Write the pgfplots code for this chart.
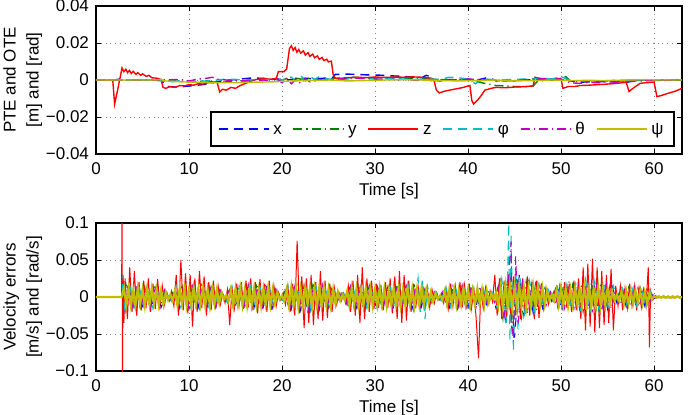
\documentclass[border=0pt]{standalone}
\usepackage{fontspec}
\setmainfont{Liberation Sans}
\usepackage{pgfplots}
\pgfplotsset{compat=1.18}

% MATLAB-style line colours
\definecolor{cx}{rgb}{0,0,1}
\definecolor{cy}{rgb}{0,0.5,0}
\definecolor{cz}{rgb}{1,0,0}
\definecolor{cphi}{rgb}{0,0.75,0.75}
\definecolor{cth}{rgb}{0.75,0,0.75}
\definecolor{cpsi}{rgb}{0.75,0.75,0}

\newcommand{\lblfont}{\fontsize{8.5}{10}\selectfont}

% line styles of the six error components
\tikzset{
  sx/.style={dash pattern=on 4.5pt off 3pt},
  sy/.style={dash pattern=on 4.5pt off 2pt on 0.6pt off 2pt},
  sz/.style={},
  sphi/.style={dash pattern=on 4.5pt off 3pt},
  sth/.style={dash pattern=on 4.5pt off 2pt on 0.6pt off 2pt},
  spsi/.style={},
}

\pgfplotsset{
  errax/.style={
    scale only axis, width=293pt, height=74pt,
    xmin=0, xmax=63,
    xtick={0,10,20,30,40,50,60},
    xticklabels={0,10,20,30,40,50,60},
    scaled x ticks=false, scaled y ticks=false,
    tick align=inside, major tick length=2.5pt,
    grid=major,
    major grid style={dotted, black!50, line width=0.45pt},
    axis line style={line width=0.8pt},
    every tick/.style={black, line width=0.5pt},
    tick label style={font=\lblfont},
    xticklabel style={yshift=-1pt},
    label style={font=\lblfont},
    ylabel style={align=center, font=\fontsize{8.5}{11.5}\selectfont},
    ylabel shift=-5pt,
    xlabel style={yshift=3pt},
    xlabel={Time [s]},
    clip=true,
  },
}

\begin{document}
\begin{tikzpicture}
\useasboundingbox (-48pt,3pt) rectangle (297pt,-204pt);

% ---------- position and orientation tracking errors ----------
\begin{axis}[errax, at={(0,0)}, anchor=north west,
  ymin=-0.04, ymax=0.04,
  ytick={-0.04,-0.02,0,0.02,0.04},
  yticklabels={−0.04,−0.02,0,0.02,0.04},
  ylabel={PTE and OTE\\{}[m] and [rad]},
  legend columns=6,
  legend image code/.code={\draw[#1] (0pt,0pt) -- (25pt,0pt);},
  legend style={at={(0.986,0.054)}, anchor=south east, name=leg,
    font=\lblfont, inner xsep=3pt, inner ysep=2pt,
    /tikz/every even column/.append style={column sep=3.5pt}},
]
\addplot[cx, sx, line width=0.7pt] coordinates {
(0,0)(2,0)(2.5,.0005)(3,0)(5,0)(7,0)(7.3,-.002)(7.6,-.0035)(8.5,-.0038)(9.5,-.0035)
(10.5,-.003)(11.5,-.0025)(12.5,-.0015)(13,-.001)(13.5,-.0005)(14.5,0)(15.5,.0005)
(16.5,.001)(17.5,.001)(18.5,.0005)(19.5,.0005)(20.5,0)(21.5,.0005)(22.5,.001)
(23.5,.0005)(24.5,.001)(25.5,.0015)(25.7,.003)(27,.0032)(28,.003)(29,.0028)
(30,.0027)(31,.0025)(32,.0022)(33,.002)(34,.0015)(35,.0012)(35.5,.0025)(35.9,.002)
(36.2,0)(37,-.0005)(38,.0003)(39,0)(40,.0005)(41,0)(42,.0012)(42.5,.0008)(43,-.0005)
(44,0)(45,-.0005)(46,.0003)(47,0)(48,.0005)(49,0)(50,.0008)(51,-.0005)(52,-.0012)
(53,-.001)(54,-.0008)(55,-.001)(56,-.0005)(57,-.0012)(58,-.0005)(59,0)(60,-.0003)
(61,0)(63,0)};
\addlegendentry{\strut x}
\addplot[cy, sy, line width=0.7pt] coordinates {
(0,0)(7,0)(8,-.0005)(10,-.001)(12,-.0005)(13,-.0015)(14,-.001)(15,-.0005)(16,-.0005)
(17,0)(19,.0005)(20,0)(21,.0015)(22,.0005)(23,.001)(24,0)(26,.001)(28,.0015)(30,.001)
(32,.0012)(34,.0008)(36,.0005)(38,0)(40,0)(41,-.001)(42,-.002)(43,-.003)(44,-.0032)
(45,-.0035)(46,-.0037)(47,-.0032)(47.5,-.0005)(49,0)(50,.001)(50.5,.0018)(51,-.0005)
(53,-.0008)(55,-.0005)(57,-.0005)(59,0)(63,0)};
\addlegendentry{\strut y}
\addplot[cz, sz, line width=0.7pt] coordinates {
(0,0)(1.8,0)(2.0,-.013)(2.3,-.006)(2.5,-.001)(2.7,.004)(2.8,.0065)(3.0,.0045)
(3.2,.0058)(3.4,.004)(3.6,.0052)(3.8,.0035)(4.0,.0047)(4.3,.003)(4.5,.004)(4.8,.0025)
(5.0,.0033)(5.4,.002)(5.7,.0025)(6.0,.0012)(6.5,.001)(7.0,.0003)(7.2,-.004)(7.5,-.0045)
(8,-.0035)(8.5,-.004)(9,-.003)(9.5,-.0032)(10,-.0025)(10.5,-.0028)(11,-.002)
(11.5,-.0022)(12,-.0015)(12.5,-.0015)(13.0,-.001)(13.3,-.0065)(13.6,-.005)(14,-.0055)
(14.5,-.004)(15,-.0045)(15.5,-.003)(16,-.002)(16.5,-.001)(17,0)(17.5,.0005)(18,.001)
(18.5,.0005)(19,.0005)(19.4,.001)(19.6,.0045)(20.2,.0045)(20.5,.006)(20.8,.017)
(21.0,.0185)(21.2,.016)(21.4,.0175)(21.6,.015)(21.8,.0165)(22.0,.0145)(22.3,.0158)
(22.5,.0135)(22.8,.0148)(23.0,.0128)(23.3,.014)(23.5,.012)(23.8,.013)(24.0,.0112)
(24.3,.0122)(24.5,.0105)(24.8,.0112)(25.0,.0098)(25.3,.0102)(25.5,.003)(25.7,.001)
(26,.0008)(27,.0012)(28,.0015)(29,.0013)(30,.0016)(31,.0014)(32,.0016)(33,.0015)
(34,.0017)(35,.0015)(36,.001)(36.3,.0005)(36.6,-.0055)(36.9,-.007)(37.5,-.006)
(38,-.0055)(38.5,-.005)(39,-.0045)(39.5,-.004)(40,-.0032)(40.2,-.003)(40.4,-.011)
(40.6,-.013)(41.0,-.011)(41.4,-.0085)(41.8,-.0055)(42.5,-.0045)(43,-.004)(44,-.0042)
(45,-.0038)(46,-.0036)(47,-.0032)(47.2,.0015)(47.6,.001)(48,.0005)(49,0)(49.5,.001)
(50,.0005)(50.2,-.0045)(50.8,-.0035)(51.5,-.0035)(52,-.003)(53,-.0028)(54,-.0025)
(55,-.0022)(56,-.0018)(57,-.0012)(57.3,-.0062)(57.6,-.005)(58,-.0035)(58.5,-.0018)
(59,-.0015)(60,-.0012)(60.3,-.009)(60.7,-.0085)(61.5,-.0072)(62.3,-.006)(63,-.0045)};
\addlegendentry{\strut z}
\addplot[cphi, sphi, line width=0.7pt] coordinates {
(0,0)(6,0)(7,-.0005)(8,-.001)(9,-.0005)(10,-.0008)(12,-.0005)(13,0)(14,.0005)(16,0)
(18,.0003)(20,0)(21,.0015)(21.5,-.0005)(22,.0025)(22.5,-.0005)(23,.002)(23.5,.0003)
(24,.0018)(25,.0005)(26,.0002)(28,.001)(30,.0005)(32,.0008)(34,.0003)(36,.0005)
(37,.0003)(38,.0015)(39,.0012)(40,.0005)(40.8,-.002)(41.3,-.0005)(42,.0005)(43,0)
(45,.0003)(46,.0005)(48,.001)(49,.0005)(50,.0018)(51,-.0003)(53,-.0005)(55,-.0003)
(58,0)(63,0)};
\addlegendentry{\strut φ}
\addplot[cth, sth, line width=0.7pt] coordinates {
(0,0)(7,0)(9,.0003)(10,-.0005)(11,.0005)(12,.001)(12.5,.0015)(13,.0005)(14,0)
(16,-.0005)(18,0)(19,-.0008)(19.5,.0005)(20,-.0015)(20.5,.0008)(21,-.002)(21.5,.0005)
(22,-.0018)(22.5,.0006)(23,-.001)(24,0)(26,.0005)(28,.001)(30,.0005)(32,.0003)(34,0)
(36,-.0003)(38,0)(40,.0005)(42,0)(44,-.0005)(46,0)(48,.0008)(50,.0005)(51,-.0015)
(52,-.0018)(53,-.0012)(54,-.0015)(55,-.001)(56,-.0012)(57,-.0008)(58,-.0005)
(60,-.0003)(63,0)};
\addlegendentry{\strut θ}
\addplot[cpsi, spsi, line width=0.7pt] coordinates {
(0,0)(6,0)(7,.0002)(7.5,-.0005)(9,-.001)(11,-.0012)(13,-.0015)(15,-.0015)(17,-.0012)
(19,-.001)(21,-.0005)(23,-.0003)(25,0)(27,-.0005)(29,-.0003)(31,0)(33,.0002)(35,0)
(37,-.0003)(39,-.0005)(41,-.0003)(43,0)(45,-.0005)(47,-.0003)(49,0)(51,-.0003)
(53,-.0002)(55,-.0003)(57,0)(59,.0002)(61,0)(63,0)};
\addlegendentry{\strut ψ}
\end{axis}
% heavier frame around the legend box
\draw[black, line width=1pt] (leg.south west) rectangle (leg.north east);

% ---------- velocity errors ----------
\begin{axis}[errax, at={(0,-108.5pt)}, anchor=north west,
  ymin=-0.1, ymax=0.1,
  ytick={-0.1,-0.05,0,0.05,0.1},
  yticklabels={−0.1,−0.05,0,0.05,0.1},
  ylabel={Velocity errors\\{}[m/s] and [rad/s]},
]
\addplot[cx, sx, line width=0.5pt] coordinates {
(0,0)(2.8,0)(2.9,.025)(3,-.02)(3.5,.015)(4,-.013)(4.5,.014)(5,-.012)(5.5,.015)(6,-.013)
(6.5,.012)(7,-.014)(7.5,.008)(8,-.004)(8.5,.012)(9,-.015)(9.5,.014)(10,-.016)(10.5,.013)
(11,-.014)(11.5,.015)(12,-.012)(12.5,.014)(13,-.013)(13.5,.007)(14,-.004)(14.5,.013)
(15,-.015)(15.5,.014)(16,-.012)(16.5,.015)(17,-.014)(17.5,.016)(18,-.013)(18.5,.014)
(19,-.015)(19.5,.008)(20,-.003)(20.5,.014)(21,-.016)(21.5,.015)(22,-.018)(22.5,.016)
(23,-.020)(23.5,.014)(24,-.017)(24.5,.015)(25,-.014)(25.5,.012)(26,-.008)(26.5,.005)
(27,-.010)(27.5,.015)(28,-.014)(28.5,.016)(29,-.015)(29.5,.013)(30,-.014)(30.5,.015)
(31,-.013)(31.5,.014)(32,-.016)(32.5,.015)(33,-.014)(33.5,.013)(34,-.015)(34.5,.014)
(35,-.013)(35.5,.012)(36,-.010)(36.5,.006)(37,-.004)(37.5,.012)(38,-.014)(38.5,.015)
(39,-.013)(39.5,.014)(40,-.015)(40.5,.013)(41,-.014)(41.5,.012)(42,-.010)(42.5,.006)
(43,-.015)(43.5,.022)(44,-.030)(44.5,.035)(45,-.055)(45.5,.030)(46,-.025)(46.5,.020)
(47,-.022)(47.5,.018)(48,-.015)(48.5,.010)(49,-.006)(49.5,.014)(50,-.015)(50.5,.016)
(51,-.014)(51.5,.018)(52,-.016)(52.5,.020)(53,-.018)(53.5,.022)(54,-.020)(54.5,.018)
(55,-.016)(55.5,.014)(56,-.008)(56.5,.012)(57,-.013)(57.5,.012)(58,-.011)(58.5,.013)
(59,-.012)(59.5,.010)(60,-.002)(61,.001)(62,-.001)(63,0)};
\addplot[cy, sy, line width=0.5pt] coordinates {
(0,0)(2.8,0)(2.95,-.02)(3.25,.016)(3.75,-.014)(4.25,.013)(4.75,-.015)(5.25,.014)
(5.75,-.012)(6.25,.015)(6.75,-.013)(7.25,.011)(7.75,-.005)(8.25,.006)(8.75,-.014)
(9.25,.015)(9.75,-.013)(10.25,.016)(10.75,-.014)(11.25,.013)(11.75,-.015)(12.25,.014)
(12.75,-.012)(13.25,.010)(13.75,-.004)(14.25,.008)(14.75,-.014)(15.25,.015)(15.75,-.013)
(16.25,.014)(16.75,-.016)(17.25,.015)(17.75,-.013)(18.25,.018)(18.75,-.014)(19.25,.012)
(19.75,-.004)(20.25,.006)(20.75,-.015)(21.25,.016)(21.75,-.017)(22.25,.015)(22.75,-.019)
(23.25,.016)(23.75,-.015)(24.25,.014)(24.75,-.016)(25.25,.013)(25.75,-.010)(26.25,.006)
(26.75,-.005)(27.25,.012)(27.75,-.015)(28.25,.014)(28.75,-.016)(29.25,.015)(29.75,-.013)
(30.25,.014)(30.75,-.015)(31.25,.013)(31.75,-.014)(32.25,.016)(32.75,-.015)(33.25,.014)
(33.75,-.013)(34.25,.015)(34.75,-.014)(35.25,.012)(35.75,-.011)(36.25,.009)(36.75,-.004)
(37.25,.006)(37.75,-.013)(38.25,.014)(38.75,-.015)(39.25,.013)(39.75,-.014)(40.25,.015)
(40.75,-.013)(41.25,.014)(41.75,-.012)(42.25,.009)(42.75,-.005)(43.25,.015)(43.75,-.030)
(44.25,.025)(44.75,-.050)(45.25,.030)(45.75,-.028)(46.25,.022)(46.75,-.020)(47.25,.018)
(47.75,-.016)(48.25,.012)(48.75,-.006)(49.25,.008)(49.75,-.014)(50.25,.015)(50.75,-.016)
(51.25,.017)(51.75,-.015)(52.25,.018)(52.75,-.017)(53.25,.019)(53.75,-.018)(54.25,.017)
(54.75,-.016)(55.25,.015)(55.75,-.010)(56.25,.006)(56.75,-.012)(57.25,.013)(57.75,-.011)
(58.25,.012)(58.75,-.013)(59.25,.011)(59.75,-.005)(60.5,.001)(61.5,-.001)(63,0)};
\addplot[cz, sz, line width=0.5pt] coordinates {
(0,0)(2.75,0)(2.8,.12)(2.85,-.12)(2.9,.03)(3.0,-.035)
(3.125,.025)(3.375,-.030)(3.625,.040)(3.875,-.020)(4.125,.035)(4.375,-.025)(4.625,.020)
(4.875,-.018)(5.125,.022)(5.375,-.015)(5.625,.025)(5.875,-.020)(6.125,.018)(6.375,-.016)
(6.625,.024)(6.875,-.012)(7.125,.015)(7.375,-.010)(7.625,.006)(7.875,-.005)(8.125,.008)
(8.375,-.012)(8.625,.030)(8.875,-.025)(9.125,.050)(9.375,-.018)(9.625,.032)(9.875,-.022)
(10.125,.030)(10.375,-.040)(10.625,.025)(10.875,-.020)(11.125,.035)(11.375,-.015)
(11.625,.028)(11.875,-.025)(12.125,.020)(12.375,-.018)(12.625,.022)(12.875,-.015)
(13.125,.015)(13.375,-.010)(13.625,.005)(13.875,-.008)(14.125,.010)(14.375,-.038)
(14.625,.012)(14.875,-.015)(15.125,.018)(15.375,-.012)(15.625,.020)(15.875,-.016)
(16.125,.022)(16.375,-.014)(16.625,.025)(16.875,-.018)(17.125,.020)(17.375,-.022)
(17.625,.024)(17.875,-.015)(18.125,.018)(18.375,-.020)(18.625,.022)(18.875,-.017)
(19.125,.015)(19.375,-.012)(19.625,.006)(19.875,-.004)(20.125,.006)(20.375,-.010)
(20.625,.015)(20.875,-.020)(21.125,.018)(21.375,-.025)(21.625,.076)(21.875,-.022)
(22.125,.028)(22.375,-.042)(22.625,.025)(22.875,-.035)(23.125,.030)(23.375,-.038)
(23.625,.020)(23.875,-.030)(24.125,.035)(24.375,-.032)(24.625,.022)(24.875,-.028)
(25.125,.018)(25.375,-.020)(25.625,.012)(25.875,-.010)(26.125,.006)(26.375,-.005)
(26.625,.005)(26.875,-.008)(27.125,.015)(27.375,-.020)(27.625,.022)(27.875,-.025)
(28.125,.030)(28.375,-.035)(28.625,.040)(28.875,-.030)(29.125,.025)(29.375,-.020)
(29.625,.022)(29.875,-.016)(30.125,.018)(30.375,-.015)(30.625,.016)(30.875,-.018)
(31.125,.020)(31.375,-.015)(31.625,.025)(31.875,-.022)(32.125,.028)(32.375,-.030)
(32.625,.035)(32.875,-.035)(33.125,.030)(33.375,-.032)(33.625,.022)(33.875,-.020)
(34.125,.018)(34.375,-.015)(34.625,.015)(34.875,-.012)(35.125,.014)(35.375,-.015)
(35.625,.012)(35.875,-.014)(36.125,.010)(36.375,-.008)(36.625,.006)(36.875,-.004)
(37.125,.005)(37.375,-.008)(37.625,.012)(37.875,-.015)(38.125,.018)(38.375,-.012)
(38.625,.015)(38.875,-.018)(39.125,.020)(39.375,-.014)(39.625,.016)(39.875,-.012)
(40.125,.018)(40.375,-.015)(40.625,.012)(40.875,-.030)(41.125,-.083)(41.375,.010)
(41.625,-.015)(41.875,.012)(42.125,-.010)(42.375,.008)(42.625,-.006)(42.875,.030)
(43.125,-.025)(43.375,.025)(43.625,-.030)(43.875,.022)(44.125,-.028)(44.375,.030)
(44.625,-.035)(44.875,.028)(45.125,-.025)(45.375,.020)(45.625,-.030)(45.875,.025)
(46.125,-.022)(46.375,.028)(46.625,-.025)(46.875,.020)(47.125,-.030)(47.375,.022)
(47.625,-.028)(47.875,.018)(48.125,-.015)(48.375,.012)(48.625,-.010)(48.875,.006)
(49.125,-.005)(49.375,.010)(49.625,-.012)(49.875,.015)(50.125,-.018)(50.375,.020)
(50.625,-.015)(50.875,.018)(51.125,-.020)(51.375,.022)(51.625,-.018)(51.875,.025)
(52.125,-.030)(52.375,.040)(52.625,-.045)(52.875,.045)(53.125,-.040)(53.375,.052)
(53.625,-.048)(53.875,.040)(54.125,-.042)(54.375,.035)(54.625,-.038)(54.875,.030)
(55.125,-.035)(55.375,.038)(55.625,-.045)(55.875,.015)(56.125,-.012)(56.375,.015)
(56.625,-.018)(56.875,.012)(57.125,-.015)(57.375,.018)(57.625,-.012)(57.875,.015)
(58.125,-.018)(58.375,.012)(58.625,-.014)(58.875,.010)(59.125,-.012)(59.375,.040)
(59.5,-.068)(59.625,.008)(59.875,-.004)(60.125,.002)(60.5,-.001)(61,.001)(62,-.001)(63,0)};
\addplot[cphi, sphi, line width=0.5pt] coordinates {
(0,0)(2.8,0)(2.9,.03)(3.1,-.025)(3.625,.016)(4.125,-.014)(4.625,.015)(5.125,-.013)
(5.625,.014)(6.125,-.016)(6.625,.013)(7.125,-.012)(7.625,.005)(8.125,-.006)(8.625,.015)
(9.125,-.014)(9.625,.016)(10.125,-.015)(10.625,.014)(11.125,-.016)(11.625,.015)
(12.125,-.013)(12.625,.014)(13.125,-.012)(13.625,.004)(14.125,-.008)(14.625,.015)
(15.125,-.014)(15.625,.016)(16.125,-.013)(16.625,.015)(17.125,-.016)(17.625,.014)
(18.125,-.015)(18.625,.013)(19.125,-.014)(19.625,.005)(20.125,-.006)(20.625,.016)
(21.125,-.015)(21.625,.017)(22.125,-.016)(22.625,.015)(23.125,-.018)(23.625,.016)
(24.125,-.015)(24.625,.014)(25.125,-.016)(25.625,.010)(26.125,-.006)(26.625,.005)
(27.125,-.012)(27.625,.015)(28.125,-.014)(28.625,.016)(29.125,-.015)(29.625,.013)
(30.125,-.014)(30.625,.015)(31.125,-.013)(31.625,.014)(32.125,-.016)(32.625,.015)
(33.125,-.014)(33.625,.016)(34.125,-.018)(34.625,.026)(34.875,-.020)(35.125,.022)
(35.375,-.030)(35.625,.015)(36.125,-.010)(36.625,.006)(37.125,-.005)(37.625,.013)
(38.125,-.014)(38.625,.015)(39.125,-.013)(39.625,.014)(40.125,-.015)(40.625,.013)
(41.125,-.014)(41.625,.012)(42.125,-.009)(42.625,.006)(43.125,-.015)(43.625,.025)
(44.125,-.035)(44.375,.100)(44.5,-.060)(44.625,.085)(44.875,-.075)(45.125,.040)
(45.375,-.045)(45.625,.025)(46.125,-.028)(46.625,.022)(47.125,-.020)(47.625,.018)
(48.125,-.016)(48.625,.010)(49.125,-.005)(49.625,.014)(50.125,-.015)(50.625,.018)
(51.125,-.016)(51.625,.020)(52.125,-.022)(52.625,.024)(53.125,-.020)(53.625,.022)
(54.125,-.024)(54.625,.020)(55.125,-.018)(55.625,.015)(56.125,-.006)(56.625,.012)
(57.125,-.014)(57.625,.013)(58.125,-.012)(58.625,.014)(59.125,-.013)(59.625,.008)
(60,-.002)(61,.001)(62,-.001)(63,0)};
\addplot[cth, sth, line width=0.5pt] coordinates {
(0,0)(2.8,0)(3.375,.014)(3.875,-.015)(4.375,.016)(4.875,-.013)(5.375,.015)(5.875,-.014)
(6.375,.013)(6.875,-.015)(7.375,.010)(7.875,-.005)(8.375,.007)(8.875,-.015)(9.375,.014)
(9.875,-.016)(10.375,.015)(10.875,-.013)(11.375,.016)(11.875,-.014)(12.375,.013)
(12.875,-.015)(13.375,.009)(13.875,-.003)(14.375,.010)(14.875,-.016)(15.375,.014)
(15.875,-.015)(16.375,.017)(16.875,-.013)(17.375,.015)(17.875,-.016)(18.375,.014)
(18.875,-.015)(19.375,.010)(19.875,-.004)(20.375,.012)(20.875,-.016)(21.375,.015)
(21.875,-.018)(22.375,.016)(22.875,-.017)(23.375,.015)(23.875,-.016)(24.375,.017)
(24.875,-.015)(25.375,.013)(25.875,-.009)(26.375,.005)(26.875,-.010)(27.375,.015)
(27.875,-.016)(28.375,.014)(28.875,-.015)(29.375,.016)(29.875,-.014)(30.375,.015)
(30.875,-.016)(31.375,.014)(31.875,-.015)(32.375,.016)(32.875,-.014)(33.375,.015)
(33.875,-.016)(34.375,.014)(34.875,-.013)(35.375,.012)(35.875,-.010)(36.375,.007)
(36.875,-.003)(37.375,.010)(37.875,-.014)(38.375,.015)(38.875,-.013)(39.375,.016)
(39.875,-.014)(40.375,.015)(40.875,-.013)(41.375,.014)(41.875,-.011)(42.375,.007)
(42.875,-.008)(43.375,.018)(43.875,-.025)(44.375,.030)(44.625,.075)(44.75,-.040)
(44.875,-.060)(45.125,.055)(45.375,-.035)(45.875,.025)(46.375,-.022)(46.875,.020)
(47.375,-.018)(47.875,.016)(48.375,-.012)(48.875,.007)(49.375,-.010)(49.875,.016)
(50.375,-.015)(50.875,.022)(51.375,-.016)(51.875,.018)(52.375,-.020)(52.875,.022)
(53.375,-.018)(53.875,.020)(54.375,-.019)(54.875,.018)(55.375,-.016)(55.875,.008)
(56.375,-.010)(56.875,.013)(57.375,-.012)(57.875,.014)(58.375,-.013)(58.875,.012)
(59.375,-.010)(59.875,.003)(61,-.001)(63,0)};
\addplot[cpsi, spsi, line width=1.1pt] coordinates {
(0,0)(2.75,0)(3,.012)(3.25,-.010)(3.5,.011)(3.75,-.012)(4,.009)(4.25,-.011)(4.5,.012)
(4.75,-.009)(5,.010)(5.25,-.012)(5.5,.011)(5.75,-.010)(6,.012)(6.25,-.009)(6.5,.010)
(6.75,-.011)(7,.009)(7.25,-.010)(7.5,.006)(7.75,-.004)(8,.003)(8.25,-.005)(8.5,.009)
(8.75,-.011)(9,.012)(9.25,-.010)(9.5,.011)(9.75,-.012)(10,.010)(10.25,-.011)(10.5,.012)
(10.75,-.009)(11,.011)(11.25,-.010)(11.5,.012)(11.75,-.011)(12,.010)(12.25,-.012)
(12.5,.011)(12.75,-.009)(13,.010)(13.25,-.008)(13.5,.006)(13.75,-.003)(14,.002)
(14.25,-.006)(14.5,.010)(14.75,-.012)(15,.011)(15.25,-.010)(15.5,.012)(15.75,-.011)
(16,.010)(16.25,-.012)(16.5,.011)(16.75,-.010)(17,.012)(17.25,-.011)(17.5,.010)
(17.75,-.012)(18,.011)(18.25,-.010)(18.5,.012)(18.75,-.011)(19,.010)(19.25,-.009)
(19.5,.006)(19.75,-.003)(20,.002)(20.25,-.005)(20.5,.010)(20.75,-.012)(21,.013)
(21.25,-.011)(21.5,.012)(21.75,-.013)(22,.011)(22.25,-.012)(22.5,.013)(22.75,-.010)
(23,.012)(23.25,-.013)(23.5,.011)(23.75,-.012)(24,.013)(24.25,-.011)(24.5,.012)
(24.75,-.010)(25,.011)(25.25,-.012)(25.5,.010)(25.75,-.009)(26,.007)(26.25,-.005)
(26.5,.003)(26.75,-.004)(27,.008)(27.25,-.011)(27.5,.012)(27.75,-.010)(28,.011)
(28.25,-.012)(28.5,.010)(28.75,-.011)(29,.012)(29.25,-.010)(29.5,.011)(29.75,-.012)
(30,.010)(30.25,-.011)(30.5,.012)(30.75,-.010)(31,.011)(31.25,-.012)(31.5,.010)
(31.75,-.011)(32,.012)(32.25,-.010)(32.5,.011)(32.75,-.012)(33,.010)(33.25,-.011)
(33.5,.012)(33.75,-.010)(34,.011)(34.25,-.012)(34.5,.010)(34.75,-.011)(35,.012)
(35.25,-.010)(35.5,.009)(35.75,-.008)(36,.007)(36.25,-.006)(36.5,.005)(36.75,-.003)
(37,.002)(37.25,-.004)(37.5,.008)(37.75,-.010)(38,.011)(38.25,-.009)(38.5,.010)
(38.75,-.011)(39,.009)(39.25,-.010)(39.5,.011)(39.75,-.009)(40,.010)(40.25,-.011)
(40.5,.009)(40.75,-.010)(41,.011)(41.25,-.009)(41.5,.010)(41.75,-.011)(42,.009)
(42.25,-.007)(42.5,.005)(42.75,-.003)(43,.006)(43.25,-.012)(43.5,.014)(43.75,-.013)
(44,.015)(44.25,-.014)(44.5,.016)(44.75,-.015)(45,.014)(45.25,-.013)(45.5,.015)
(45.75,-.012)(46,.013)(46.25,-.014)(46.5,.012)(46.75,-.013)(47,.014)(47.25,-.012)
(47.5,.013)(47.75,-.011)(48,.012)(48.25,-.010)(48.5,.008)(48.75,-.005)(49,.003)
(49.25,-.005)(49.5,.009)(49.75,-.011)(50,.012)(50.25,-.010)(50.5,.011)(50.75,-.012)
(51,.010)(51.25,-.011)(51.5,.012)(51.75,-.010)(52,.011)(52.25,-.012)(52.5,.013)
(52.75,-.011)(53,.012)(53.25,-.013)(53.5,.011)(53.75,-.012)(54,.013)(54.25,-.011)
(54.5,.012)(54.75,-.010)(55,.011)(55.25,-.009)(55.5,.007)(55.75,-.004)(56,.003)
(56.25,-.005)(56.5,.008)(56.75,-.009)(57,.008)(57.25,-.009)(57.5,.007)(57.75,-.008)
(58,.009)(58.25,-.007)(58.5,.008)(58.75,-.009)(59,.007)(59.25,-.008)(59.5,.006)
(59.75,-.003)(60,.001)(60.25,-.001)(60.5,.001)(60.75,-.001)(61,.001)(61.25,-.001)
(61.5,.001)(61.75,-.001)(62,.001)(62.25,-.001)(62.5,.001)(62.75,-.001)(63,0)};
\end{axis}
\end{tikzpicture}
\end{document}
